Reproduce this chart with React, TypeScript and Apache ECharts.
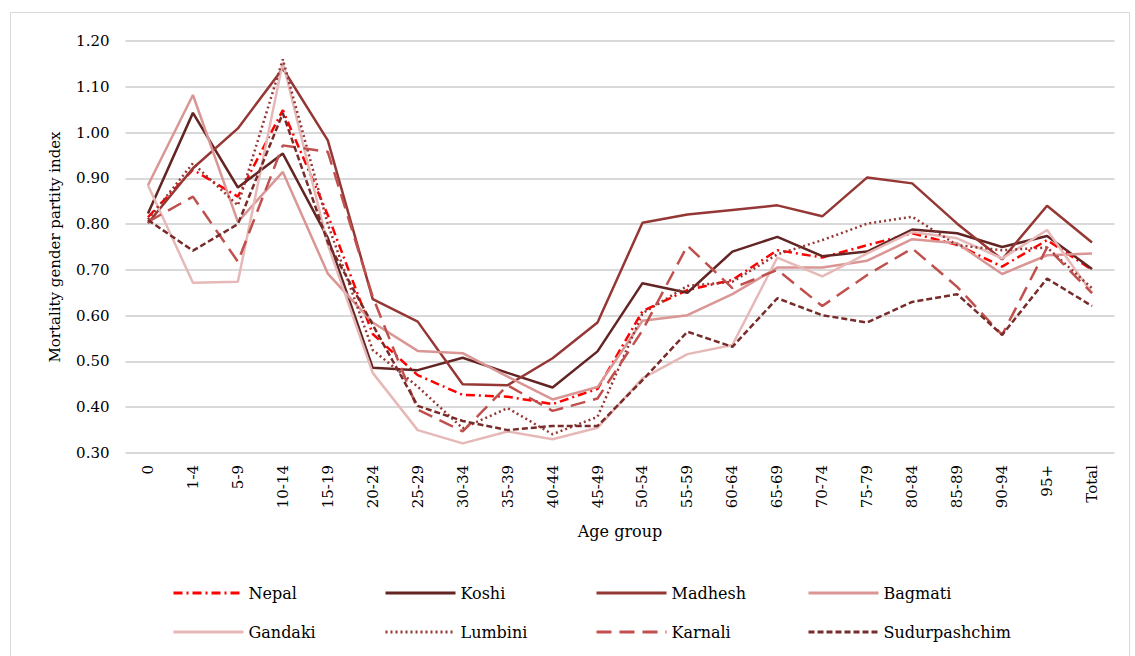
import React, { useEffect, useRef } from "react";
import * as echarts from "echarts";

const categories = ["0","1-4","5-9","10-14","15-19","20-24","25-29","30-34","35-39","40-44","45-49","50-54","55-59","60-64","65-69","70-74","75-79","80-84","85-89","90-94","95+","Total"];

const nepal = [0.815,0.919,0.860,1.049,0.82,0.56,0.47,0.427,0.423,0.407,0.44,0.61,0.656,0.678,0.743,0.727,0.754,0.78,0.755,0.707,0.765,0.70];
const koshi = [0.823,1.043,0.880,0.954,0.77,0.486,0.481,0.508,0.475,0.443,0.522,0.671,0.650,0.740,0.772,0.730,0.740,0.788,0.780,0.750,0.774,0.702];
const madhesh = [0.802,0.922,1.009,1.140,0.983,0.636,0.587,0.450,0.448,0.507,0.585,0.803,0.821,0.831,0.841,0.817,0.902,0.889,0.801,0.723,0.840,0.760];
const bagmati = [0.885,1.082,0.805,0.914,0.692,0.585,0.523,0.518,0.467,0.417,0.444,0.589,0.601,0.647,0.705,0.705,0.720,0.767,0.758,0.691,0.732,0.736];
const gandaki = [0.885,0.672,0.674,1.154,0.755,0.475,0.350,0.321,0.347,0.330,0.355,0.463,0.516,0.536,0.727,0.686,0.736,0.783,0.769,0.725,0.787,0.649];
const lumbini = [0.81,0.933,0.841,1.16,0.80,0.525,0.445,0.354,0.398,0.341,0.379,0.605,0.665,0.674,0.734,0.765,0.801,0.816,0.754,0.743,0.749,0.66];
const karnali = [0.805,0.860,0.718,0.972,0.958,0.641,0.395,0.347,0.448,0.392,0.419,0.568,0.753,0.660,0.700,0.621,0.689,0.747,0.663,0.558,0.749,0.649];
const sudurpashchim = [0.809,0.742,0.800,1.042,0.76,0.58,0.403,0.370,0.350,0.359,0.359,0.459,0.565,0.532,0.638,0.601,0.585,0.630,0.647,0.558,0.681,0.621];

const seriesNames = ["Nepal","Koshi","Madhesh","Bagmati","Gandaki","Lumbini","Karnali","Sudurpashchim"];
const seriesData = [nepal, koshi, madhesh, bagmati, gandaki, lumbini, karnali, sudurpashchim];
const seriesColors = ["#FF0000","#632523","#953735","#D99694","#E6B9B8","#953735","#C0504D","#772C2A"];
const seriesDash: any[] = [[9,4,2,4],"solid","solid","solid","solid",[2,3],[15,8],[6,3]];

const legendPos = [
  [167, 580],[379, 580],[590, 580],[802, 580],
  [167, 619],[379, 619],[590, 619],[802, 619],
];

const FONT = "DejaVu Serif";

export default function App() {
  const ref = useRef<HTMLDivElement>(null);
  useEffect(() => {
    if (!ref.current) return;
    const chart = echarts.init(ref.current, null, { renderer: "svg" });
    chart.setOption({
      animation: false,
      backgroundColor: "#ffffff",
      grid: { left: 125.5, right: 20.5, top: 41, bottom: 203 },
      graphic: [
        {
          type: "rect",
          shape: { x: 10.5, y: 12.5, width: 1119, height: 700 },
          style: { fill: "none", stroke: "#d9d9d9", lineWidth: 1 },
          silent: true,
        },
      ],
      legend: seriesNames.map((n, i) => ({
        data: [n],
        left: legendPos[i][0],
        top: legendPos[i][1],
        itemWidth: 70,
        itemHeight: 14,
        itemGap: 8,
        itemStyle: { opacity: 0 },
        lineStyle: { width: 3 },
        textStyle: { fontFamily: FONT, fontSize: 16, color: "#000" },
      })),
      xAxis: {
        type: "category",
        data: categories,
        boundaryGap: true,
        name: "Age group",
        nameLocation: "middle",
        nameGap: 70,
        nameTextStyle: { fontFamily: FONT, fontSize: 16, color: "#000" },
        axisLine: { show: false },
        axisTick: { show: false },
        axisLabel: { rotate: 90, fontFamily: FONT, fontSize: 15, color: "#000", margin: 12, interval: 0 },
      },
      yAxis: {
        type: "value",
        min: 0.3,
        max: 1.2,
        interval: 0.1,
        name: "Mortality gender partity index",
        nameLocation: "middle",
        nameGap: 63,
        nameTextStyle: { fontFamily: FONT, fontSize: 15, color: "#000" },
        axisLine: { show: false },
        axisTick: { show: false },
        axisLabel: {
          fontFamily: FONT,
          fontSize: 15,
          color: "#000",
          margin: 16,
          formatter: (v: number) => v.toFixed(2),
        },
        splitLine: { lineStyle: { color: "#d9d9d9", width: 2 } },
      },
      series: seriesNames.map((n, i) => ({
        name: n,
        type: "line",
        data: seriesData[i],
        symbol: "none",
        smooth: false,
        lineStyle: { color: seriesColors[i], width: 2.5, type: seriesDash[i] },
        itemStyle: { color: seriesColors[i] },
      })),
    });
    return () => chart.dispose();
  }, []);
  return (
    <div
      ref={ref}
      style={{ position: "fixed", left: 0, top: 0, width: 1135, height: 656, background: "#fff" }}
    />
  );
}
